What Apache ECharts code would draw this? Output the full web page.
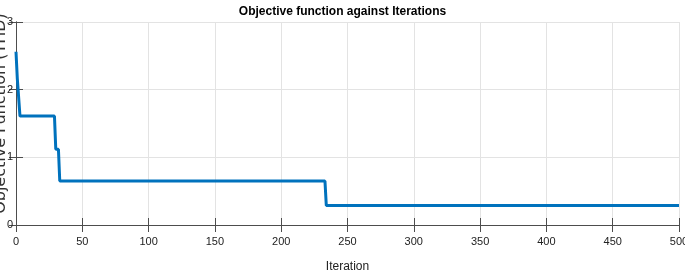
<!DOCTYPE html>
<html>
<head>
<meta charset="utf-8">
<script src="https://cdn.jsdelivr.net/npm/echarts@6/dist/echarts.min.js"></script>
<style>
html, body { margin: 0; padding: 0; background: #fff; }
#chart { width: 685px; height: 274px; }
</style>
</head>
<body>
<div id="chart"></div>
<script>
// iteration where the best value changes, and the value there
var iterations = [0, 1, 2, 3, 29, 30, 32, 33, 233, 234, 500]
var thd = [2.56, 2.16, 2.15, 1.61, 1.61, 1.12, 1.12, 0.65, 0.65, 0.29, 0.29]
var xTicks = [0, 50, 100, 150, 200, 250, 300, 350, 400, 450, 500]
var yTicks = [0, 1, 2, 3]

var narrow = '"Liberation Sans Narrow", "Arial Narrow", "Liberation Sans", sans-serif'
var tickColor = '#4d4d4d'
var gridColor = '#e3e3e3'

var points = iterations.map(function (it, i) {
	return [it, thd[i]]
})

var chart = echarts.init(document.getElementById('chart'))
chart.setOption({
	animation: false,
	title: {
		text: 'Objective function against Iterations',
		left: 'center',
		top: 1,
		textStyle: {
			fontFamily: narrow,
			fontWeight: 'bold',
			fontSize: 12,
			color: '#000'
		}
	},
	grid: {
		left: 16,
		right: 6,
		top: 22,
		bottom: 49,
		outerBoundsMode: 'none',
		containLabel: false
	},
	xAxis: [{
		type: 'value',
		min: 0,
		max: 500,
		interval: 50,
		name: 'Iteration',
		nameLocation: 'middle',
		nameGap: 36,
		nameMoveOverlap: false,
		nameTextStyle: { fontFamily: narrow, fontSize: 12, color: '#222' },
		axisLine: { lineStyle: { color: tickColor } },
		axisTick: { inside: true, length: 7, lineStyle: { color: tickColor } },
		axisLabel: {
			margin: 11,
			fontFamily: narrow,
			fontSize: 11,
			color: '#222',
			hideOverlap: false,
			formatter: function (v) { return xTicks.indexOf(v) >= 0 ? String(v) : '' }
		},
		splitLine: { show: true, lineStyle: { color: gridColor } }
	}, {
		type: 'value',
		position: 'top',
		min: 0,
		max: 500,
		interval: 50,
		axisLine: { lineStyle: { color: tickColor } },
		axisTick: { inside: true, length: 7, lineStyle: { color: tickColor } },
		axisLabel: { show: false },
		splitLine: { show: false }
	}],
	yAxis: [{
		type: 'value',
		min: 0,
		max: 3,
		interval: 1,
		name: 'Objective Function (THD)',
		nameLocation: 'middle',
		nameGap: 7,
		nameMoveOverlap: false,
		nameTextStyle: {
			fontFamily: '"DejaVu Sans", sans-serif',
			fontSize: 16,
			color: '#333',
			padding: [0, 0, 0, 20]
		},
		axisLine: { show: true, lineStyle: { color: tickColor } },
		axisTick: { show: true, inside: true, length: 7, lineStyle: { color: tickColor } },
		axisLabel: {
			margin: 3,
			fontFamily: narrow,
			fontSize: 11,
			color: '#222',
			formatter: function (v) { return yTicks.indexOf(v) >= 0 ? String(v) : '' }
		},
		splitLine: { show: true, lineStyle: { color: gridColor } }
	}, {
		type: 'value',
		position: 'right',
		min: 0,
		max: 3,
		interval: 1,
		axisLine: { show: true, lineStyle: { color: tickColor } },
		axisTick: { show: true, inside: true, length: 7, lineStyle: { color: tickColor } },
		axisLabel: { show: false },
		splitLine: { show: false }
	}],
	series: [{
		type: 'line',
		data: points,
		showSymbol: false,
		lineStyle: { color: '#0072BD', width: 3 },
		itemStyle: { color: '#0072BD' }
	}]
})
</script>
</body>
</html>
